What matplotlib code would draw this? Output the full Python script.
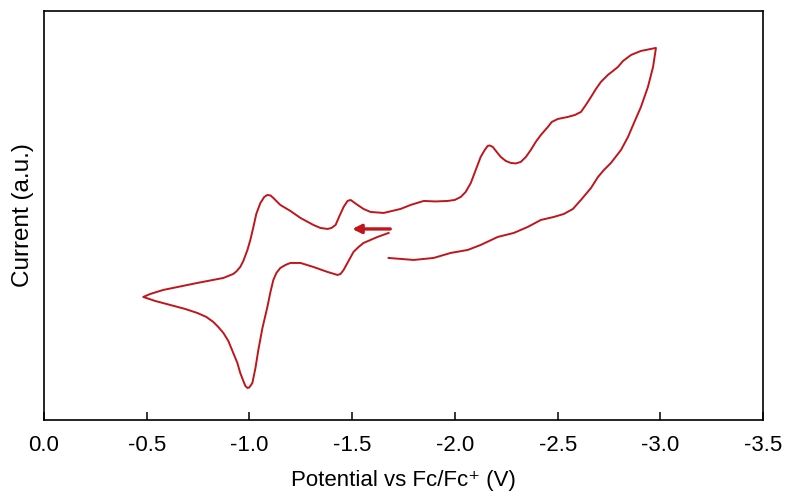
import matplotlib
matplotlib.use("Agg")
import matplotlib.pyplot as plt
import numpy as np

plt.rcParams['font.family'] = ['Liberation Sans', 'DejaVu Sans']

# CV trace, in scan order (potential in V vs Fc/Fc+, current in a.u.)
# forward sweep from -1.68 V towards the -2.98 V vertex
v_fwd = [-1.677, -1.735, -1.799, -1.896, -1.979, -2.062, -2.125, -2.208, -2.286, -2.354,
         -2.418, -2.481, -2.530, -2.574, -2.613, -2.662, -2.696, -2.725, -2.759, -2.808,
         -2.842, -2.871, -2.905, -2.939, -2.964, -2.978]
i_fwd = [16.2, 16.1, 16.0, 16.2, 16.7, 17.0, 17.5, 18.3, 18.7, 19.3,
         20.0, 20.3, 20.6, 21.1, 22.0, 23.2, 24.3, 25.0, 25.7, 27.0,
         28.3, 29.7, 31.3, 33.3, 35.3, 37.2]

# return sweep back to the -0.48 V vertex
v_back = [-2.905, -2.857, -2.818, -2.793, -2.769, -2.744, -2.710, -2.686, -2.662, -2.637,
          -2.613, -2.584, -2.549, -2.501, -2.471, -2.452, -2.418, -2.393, -2.369, -2.345,
          -2.320, -2.296, -2.272, -2.247, -2.223, -2.203, -2.184, -2.169, -2.159, -2.145,
          -2.125, -2.101, -2.077, -2.052, -2.028, -1.999, -1.964, -1.906, -1.848, -1.784,
          -1.735, -1.653, -1.589, -1.555, -1.526, -1.506, -1.492, -1.477, -1.458, -1.438,
          -1.419, -1.399, -1.380, -1.345, -1.311, -1.248, -1.199, -1.150, -1.131, -1.116,
          -1.102, -1.087, -1.072, -1.053, -1.033, -1.019, -1.004, -0.990, -0.970, -0.955,
          -0.936, -0.921, -0.873, -0.809, -0.746, -0.663, -0.580, -0.517, -0.483]
i_back = [36.9, 36.5, 35.9, 35.3, 34.9, 34.5, 33.8, 33.1, 32.3, 31.5,
          30.8, 30.5, 30.3, 30.1, 29.8, 29.3, 28.5, 27.8, 27.0, 26.3,
          25.8, 25.65, 25.7, 25.9, 26.3, 26.8, 27.3, 27.45, 27.4, 27.0,
          26.3, 25.0, 23.7, 22.8, 22.3, 22.0, 21.9, 21.85, 21.9, 21.5,
          21.1, 20.7, 20.8, 21.1, 21.5, 21.8, 22.0, 21.9, 21.3, 20.4,
          19.5, 19.2, 19.1, 19.2, 19.5, 20.2, 20.9, 21.5, 21.9, 22.2,
          22.45, 22.5, 22.3, 21.7, 20.6, 19.3, 18.0, 17.0, 15.9, 15.3,
          14.85, 14.6, 14.2, 13.95, 13.7, 13.35, 13.0, 12.6, 12.3]

# final sweep to -1.68 V
v_end = [-0.541, -0.614, -0.687, -0.746, -0.790, -0.824, -0.848, -0.873, -0.897, -0.921,
         -0.941, -0.955, -0.970, -0.980, -0.990, -0.999, -1.014, -1.029, -1.043, -1.063,
         -1.087, -1.102, -1.116, -1.131, -1.150, -1.175, -1.199, -1.248, -1.311, -1.380,
         -1.428, -1.443, -1.458, -1.482, -1.506, -1.531, -1.555, -1.589, -1.623, -1.677]
i_end = [11.9, 11.5, 11.1, 10.7, 10.3, 9.8, 9.3, 8.7, 7.9, 6.7,
         5.7, 4.7, 3.9, 3.4, 3.2, 3.25, 3.7, 5.2, 7.0, 9.2,
         11.3, 12.8, 14.0, 14.7, 15.2, 15.5, 15.7, 15.7, 15.3, 14.8,
         14.5, 14.6, 15.0, 15.9, 16.8, 17.3, 17.7, 18.0, 18.3, 18.7]

potential = v_fwd + v_back + v_end
current = i_fwd + i_back + i_end

arrow_from = (-1.685, 19.1)
arrow_to = (-1.50, 19.1)

x_ticks = [0.0, -0.5, -1.0, -1.5, -2.0, -2.5, -3.0, -3.5]
x_ticklabels = ["0.0", "-0.5", "-1.0", "-1.5", "-2.0", "-2.5", "-3.0", "-3.5"]

red = "#C0151B"

fig = plt.figure(figsize=(7.86, 4.97), dpi=100)
ax = fig.add_axes([0.056, 0.155, 0.915, 0.823])

ax.plot(potential, current, color=red, lw=1.4, solid_joinstyle='round')
ax.annotate("", xy=arrow_to, xytext=arrow_from,
            arrowprops=dict(arrowstyle='-|>', color=red, lw=2.4, mutation_scale=13,
                            shrinkA=0, shrinkB=0))

ax.set_xlim(0.0, -3.5)
ax.set_ylim(0, 40.9)
ax.set_xticks(x_ticks)
ax.set_xticklabels(x_ticklabels)
ax.set_yticks([])
ax.tick_params(axis='x', direction='in', length=6, width=1.1, pad=11, labelsize=16)
for s in ax.spines.values():
    s.set_linewidth(1.2)

ax.set_xlabel("Potential vs Fc/Fc⁺ (V)", fontsize=16, labelpad=10)
ax.set_ylabel("Current (a.u.)", fontsize=17.5, labelpad=7)

fig.savefig("out.png", dpi=100)
